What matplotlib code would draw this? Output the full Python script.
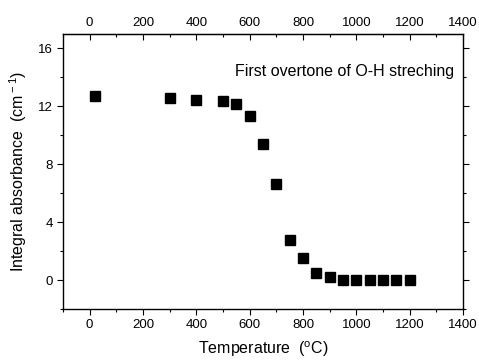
import numpy as np
import matplotlib.pyplot as plt
from matplotlib.ticker import MultipleLocator

plt.rcParams['font.family'] = ['Liberation Sans', 'DejaVu Sans']
plt.rcParams['mathtext.fontset'] = 'custom'
plt.rcParams['mathtext.rm'] = 'Liberation Sans'

# temperature (C) and integral absorbance (cm-1)
temperature = [20, 300, 400, 500, 550, 600, 650, 700, 750, 800, 850, 900,
               950, 1000, 1050, 1100, 1150, 1200]
absorbance = [12.7, 12.55, 12.45, 12.35, 12.15, 11.3, 9.4, 6.65, 2.75, 1.55,
              0.5, 0.2, 0.0, 0.0, 0.0, 0.0, 0.0, 0.0]

fig = plt.figure(figsize=(4.79, 3.62), dpi=100)
ax = fig.add_axes([0.1315, 0.1464, 0.8351, 0.7597])

ax.plot(temperature, absorbance, 's', color='black', ms=6.8, mec='black')

ax.set_xlim(-100, 1400)
ax.set_ylim(-2, 17)
ax.xaxis.set_major_locator(MultipleLocator(200))
ax.xaxis.set_minor_locator(MultipleLocator(100))
ax.yaxis.set_major_locator(MultipleLocator(4))
ax.yaxis.set_minor_locator(MultipleLocator(2))

ax.tick_params(axis='both', which='major', labelsize=9.5, length=4, width=0.8,
               direction='out')
ax.tick_params(axis='both', which='minor', length=2.5, width=0.8, direction='out')
ax.tick_params(axis='y', which='both', right=True)

top = ax.secondary_xaxis('top')
top.xaxis.set_major_locator(MultipleLocator(200))
top.xaxis.set_minor_locator(MultipleLocator(100))
top.tick_params(which='major', direction='in', length=4, width=0.8, labelsize=9.5)
top.tick_params(which='minor', direction='in', length=2.5, width=0.8)

for s in ax.spines.values():
    s.set_linewidth(1.0)

ax.set_xlabel('Temperature  ($^{\\rm o}$C)', fontsize=11.5, labelpad=6)
ax.set_ylabel('Integral absorbance  (cm$^{\\rm -1}$)', fontsize=11.5, labelpad=6)
ax.text(0.978, 0.862, 'First overtone of O-H streching', transform=ax.transAxes,
        ha='right', va='center', fontsize=11.5)

fig.savefig('out.png', dpi=100)
